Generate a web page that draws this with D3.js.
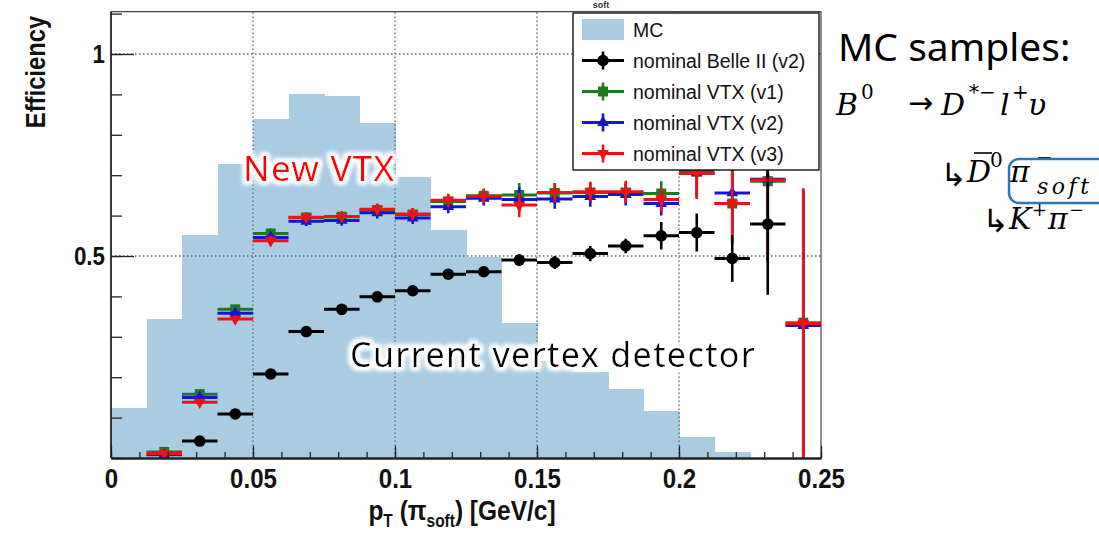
<!DOCTYPE html>
<html><head><meta charset="utf-8">
<script src="https://cdn.jsdelivr.net/npm/d3@7"></script>
<style>
html,body{margin:0;padding:0;background:#fff;}
svg{display:block;}
</style></head><body>
<svg id="chart" width="1099" height="534"></svg>
<script>
// ---------- data ----------
const binLow = [0,0.0125,0.025,0.0375,0.05,0.0625,0.075,0.0875,0.1,0.1125,0.125,0.1375,0.15,0.1625,0.175,0.1875,0.2,0.2125,0.225,0.2375];
const binWidth = 0.0125;
const mcHist = [0.124,0.344,0.552,0.728,0.839,0.901,0.897,0.83,0.696,0.564,0.498,0.335,0.24,0.213,0.17,0.116,0.053,0.016,0,0];
const belle2V2 = [null,null,0.042,0.109,0.208,0.313,0.368,0.399,0.414,0.455,0.461,0.490,0.484,0.506,0.525,0.550,0.558,0.494,0.579,null];
const belle2V2Err = [null,null,0.004,0.006,0.008,0.009,0.01,0.011,0.011,0.012,0.013,0.015,0.016,0.019,0.018,0.034,0.047,0.058,0.175,null];
const vtxV1 = [null,0.015,0.158,0.368,0.556,0.595,0.597,0.614,0.603,0.635,0.649,0.651,0.656,0.657,0.657,0.655,0.71,0.63,0.685,0.335];
const vtxV2 = [null,0.008,0.150,0.358,0.546,0.586,0.588,0.607,0.594,0.622,0.643,0.640,0.641,0.647,0.652,0.630,0.705,0.656,0.69,0.328];
const vtxV3 = [null,0.011,0.138,0.344,0.538,0.596,0.598,0.616,0.604,0.638,0.648,0.626,0.657,0.659,0.659,0.640,0.705,0.630,0.688,0.333];
const vtxErr = [null,0.005,0.008,0.01,0.012,0.012,0.013,0.014,0.015,0.016,0.018,0.03,0.024,0.025,0.027,0.03,0.063,0.1,0.2,0.333];
const xTickValues = [0,0.05,0.1,0.15,0.2,0.25];
const xTickLabels = ["0","0.05","0.1","0.15","0.2","0.25"];
const yTickValues = [0.5,1];
const yTickLabels = ["0.5","1"];
const legendLabels = ["MC","nominal Belle II (v2)","nominal VTX (v1)","nominal VTX (v2)","nominal VTX (v3)"];

// ---------- setup ----------
const svg = d3.select("#chart");
const x = d3.scaleLinear().domain([0,0.25]).range([111,821]);
const y = d3.scaleLinear().domain([0,1]).range([458,54]);
const yTop = 1.105;
const C = {mc:"#a9cce3", black:"#000", green:"#1f7a1f", blue:"#1414d2", red:"#f01212", grid:"#666"};

const defs = svg.append("defs");
const glow = defs.append("filter").attr("id","glow").attr("x","-10%").attr("y","-40%").attr("width","120%").attr("height","180%");
glow.append("feMorphology").attr("in","SourceAlpha").attr("operator","dilate").attr("radius",3).attr("result","d");
glow.append("feGaussianBlur").attr("in","d").attr("stdDeviation",2.2).attr("result","b");
glow.append("feFlood").attr("flood-color","#fff").attr("result","f");
glow.append("feComposite").attr("in","f").attr("in2","b").attr("operator","in").attr("result","w");
const fm = glow.append("feMerge");
fm.append("feMergeNode").attr("in","w");
fm.append("feMergeNode").attr("in","w");
fm.append("feMergeNode").attr("in","SourceGraphic");
defs.append("clipPath").attr("id","plotClip").append("rect")
  .attr("x",x(0)).attr("y",y(yTop)).attr("width",x(0.25)-x(0)).attr("height",y(0)-y(yTop));

// small title remnant above the frame
svg.append("text").attr("x",601).attr("y",8).attr("text-anchor","middle")
  .attr("font-family","Liberation Sans, Arial, sans-serif").attr("font-weight","bold").attr("font-size",9).attr("fill","#333").text("soft");

// ---------- MC histogram ----------
svg.append("g").selectAll("rect").data(binLow.map((b,i)=>({b,v:mcHist[i]}))).join("rect")
  .attr("x",d=>x(d.b)).attr("width",d=>x(d.b+binWidth)-x(d.b)+0.5)
  .attr("y",d=>y(d.v)).attr("height",d=>y(0)-y(d.v))
  .attr("fill",C.mc).attr("shape-rendering","crispEdges");

// ---------- grid ----------
const grid = svg.append("g").attr("stroke",C.grid).attr("stroke-width",1.3).attr("stroke-dasharray","1.5,2.5").attr("fill","none");
[0.05,0.1,0.15,0.2].forEach(v=>grid.append("line").attr("x1",x(v)).attr("x2",x(v)).attr("y1",y(0)).attr("y2",y(yTop)));
yTickValues.forEach(v=>grid.append("line").attr("x1",x(0)).attr("x2",x(0.25)).attr("y1",y(v)).attr("y2",y(v)));

// ---------- annotations ----------
svg.append("text").attr("x",243).attr("y",181).attr("filter","url(#glow)")
  .attr("font-family","Noto Sans, Open Sans, sans-serif").attr("font-size",35).attr("letter-spacing",1.3)
  .attr("fill","#ff0000").text("New VTX");
svg.append("text").attr("x",350).attr("y",367).attr("filter","url(#glow)")
  .attr("font-family","Noto Sans, Open Sans, sans-serif").attr("font-size",34).attr("letter-spacing",1.4)
  .attr("fill","#000").text("Current vertex detector");

// ---------- data series ----------
function drawSeries(vals, errs, color, marker){
  const g = svg.append("g").attr("clip-path","url(#plotClip)");
  vals.forEach((v,i)=>{
    if(v==null) return;
    const cx = x(binLow[i]+binWidth/2), cy = y(v), e = errs[i]||0;
    g.append("line").attr("x1",x(binLow[i])).attr("x2",x(binLow[i]+binWidth)).attr("y1",cy).attr("y2",cy)
      .attr("stroke",color).attr("stroke-width",3);
    g.append("line").attr("x1",cx).attr("x2",cx).attr("y1",y(v-e)).attr("y2",y(v+e))
      .attr("stroke",color).attr("stroke-width",2.6);
    marker(g, cx, cy, color);
  });
}
const mCircle = (g,cx,cy,c)=>g.append("circle").attr("cx",cx).attr("cy",cy).attr("r",5.8).attr("fill",c);
const mSquare = (g,cx,cy,c)=>g.append("path").attr("d",d3.symbol(d3.symbolSquare,100)()).attr("transform",`translate(${cx},${cy})`).attr("fill",c);
const mTriUp = (g,cx,cy,c)=>g.append("path").attr("d",d3.symbol(d3.symbolTriangle,60)()).attr("transform",`translate(${cx},${cy})`).attr("fill",c);
const mTriDown = (g,cx,cy,c)=>g.append("path").attr("d",d3.symbol(d3.symbolTriangle,60)()).attr("transform",`translate(${cx},${cy}) rotate(180)`).attr("fill",c);

drawSeries(vtxV1, vtxErr, C.green, mSquare);
drawSeries(vtxV2, vtxErr, C.blue, mTriUp);
drawSeries(vtxV3, vtxErr, C.red, mTriDown);
drawSeries(belle2V2, belle2V2Err, C.black, mCircle);

// ---------- legend ----------
const lg = svg.append("g");
lg.append("rect").attr("x",573).attr("y",13).attr("width",246).attr("height",157).attr("fill","#fff").attr("stroke","#000").attr("stroke-width",1.3);
const legendMarkers = [null,[C.black,mCircle],[C.green,mSquare],[C.blue,mTriUp],[C.red,mTriDown]];
legendLabels.forEach((lab,i)=>{
  const ry = 29.5 + i*31;
  if(i===0){
    lg.append("rect").attr("x",582).attr("y",ry-10.5).attr("width",42).attr("height",21).attr("fill",C.mc);
  } else {
    const [c,m] = legendMarkers[i];
    lg.append("line").attr("x1",582).attr("x2",624).attr("y1",ry).attr("y2",ry).attr("stroke",c).attr("stroke-width",3);
    lg.append("line").attr("x1",603).attr("x2",603).attr("y1",ry-9).attr("y2",ry+9).attr("stroke",c).attr("stroke-width",2.6);
    m(lg,603,ry,c);
  }
  lg.append("text").attr("x",633).attr("y",ry+7).attr("font-family","Liberation Sans, Arial, sans-serif")
    .attr("font-size",19.5).attr("fill","#111").text(lab);
});

// ---------- frame & axes ----------
svg.append("line").attr("x1",x(0)).attr("x2",x(0.25)).attr("y1",y(yTop)).attr("y2",y(yTop)).attr("stroke","#444").attr("stroke-width",1.2);
svg.append("line").attr("x1",x(0.25)).attr("x2",x(0.25)).attr("y1",y(yTop)).attr("y2",y(0)).attr("stroke","#444").attr("stroke-width",1.2);

const tickFont = "Liberation Sans, Arial, sans-serif";
const xMinor = svg.append("g").attr("transform",`translate(0,${y(0)})`)
  .call(d3.axisBottom(x).tickValues(d3.range(0,26).map(k=>k/100)).tickSize(-6).tickSizeOuter(0).tickFormat(""));
const xMajor = svg.append("g").attr("transform",`translate(0,${y(0)})`)
  .call(d3.axisBottom(x).tickValues(xTickValues).tickSize(-12).tickSizeOuter(0).tickPadding(10)
    .tickFormat((d,i)=>xTickLabels[i]));
[xMinor,xMajor].forEach(a=>{a.select(".domain").attr("stroke","#222").attr("stroke-width",1.8); a.selectAll("line").attr("stroke","#222").attr("stroke-width",1.3);});
xMajor.selectAll("text").attr("font-family",tickFont).attr("font-weight","bold").attr("font-size",28)
  .attr("fill","#111").attr("transform","scale(0.86,1)");

const yMinor = svg.append("g").attr("transform",`translate(${x(0)},0)`)
  .call(d3.axisLeft(y).tickValues(d3.range(0,12).map(k=>k/10)).tickSize(-11).tickSizeOuter(0).tickFormat(""));
const yMajor = svg.append("g").attr("transform",`translate(${x(0)},0)`)
  .call(d3.axisLeft(y).tickValues(yTickValues).tickSize(-23).tickSizeOuter(0).tickPadding(7)
    .tickFormat((d,i)=>yTickLabels[i]));
yMinor.select(".domain").attr("d",`M0,${y(yTop)}V${y(0)}`);
yMajor.select(".domain").remove();
[yMinor,yMajor].forEach(a=>{a.select(".domain").attr("stroke","#222").attr("stroke-width",1.8); a.selectAll("line").attr("stroke","#222").attr("stroke-width",1.3);});
yMajor.selectAll("text").attr("font-family",tickFont).attr("font-weight","bold").attr("font-size",26)
  .attr("fill","#111").attr("transform","scale(0.86,1)");

// axis titles
svg.append("text").attr("transform","translate(45,72) rotate(-90) scale(0.85,1)").attr("text-anchor","middle")
  .attr("font-family",tickFont).attr("font-weight","bold").attr("font-size",28).attr("fill","#111").text("Efficiency");
const xt = svg.append("text").attr("transform","translate(462,520) scale(0.86,1)").attr("text-anchor","middle")
  .attr("font-family",tickFont).attr("font-weight","bold").attr("font-size",28.5).attr("fill","#111");
xt.append("tspan").text("p");
xt.append("tspan").attr("font-size",18).attr("dy",7).text("T");
xt.append("tspan").attr("dy",-7).text(" (π");
xt.append("tspan").attr("font-size",18).attr("dy",7).text("soft");
xt.append("tspan").attr("dy",-7).text(") [GeV/c]");

// ---------- right-side notes ----------
const sans = "Noto Sans, Open Sans, sans-serif";
const serif = "DejaVu Serif, Liberation Serif, serif";
const arrowFont = "DejaVu Sans, sans-serif";
svg.append("text").attr("x",838).attr("y",61).attr("font-family",sans).attr("font-size",39).attr("fill","#000").text("MC samples:");
function t(xp,yp,txt,size,italic,fam){
  return svg.append("text").attr("x",xp).attr("y",yp).attr("font-family",fam||serif).attr("font-size",size)
    .attr("font-style",italic?"italic":"normal").attr("fill","#000").text(txt);
}
// line 1: B0 -> D*- l+ v
t(836,115,"B",30,true);
t(861,99,"0",20,false);
t(908,113,"→",30,false,arrowFont);
t(941,115,"D",30,true);
t(969,99,"*−",20,false);
t(1000,115,"l",30,true);
t(1012,99,"+",20,false);
t(1028,115,"υ",30,true);
// line 2: -> Dbar0 pi-soft
t(940,186,"↳",32,false,arrowFont);
t(967,182,"D",30,true);
svg.append("line").attr("x1",974).attr("x2",992).attr("y1",153).attr("y2",153).attr("stroke","#000").attr("stroke-width",1.6);
t(990,167,"0",20,false);
t(1010,182,"π",30,true);
t(1036,164,"−",20,false);
t(1037,194,"soft",22,true).attr("letter-spacing",3.5);
svg.append("rect").attr("x",1009).attr("y",159).attr("width",100).attr("height",44).attr("rx",10)
  .attr("fill","none").attr("stroke","#2e75b6").attr("stroke-width",2.5);
// line 3: -> K+ pi-
t(982,232,"↳",32,false,arrowFont);
t(1009,229,"K",30,true);
t(1032,216,"+",18,false);
t(1048,229,"π",30,true);
t(1069,216,"−",18,false);
</script>
</body></html>
